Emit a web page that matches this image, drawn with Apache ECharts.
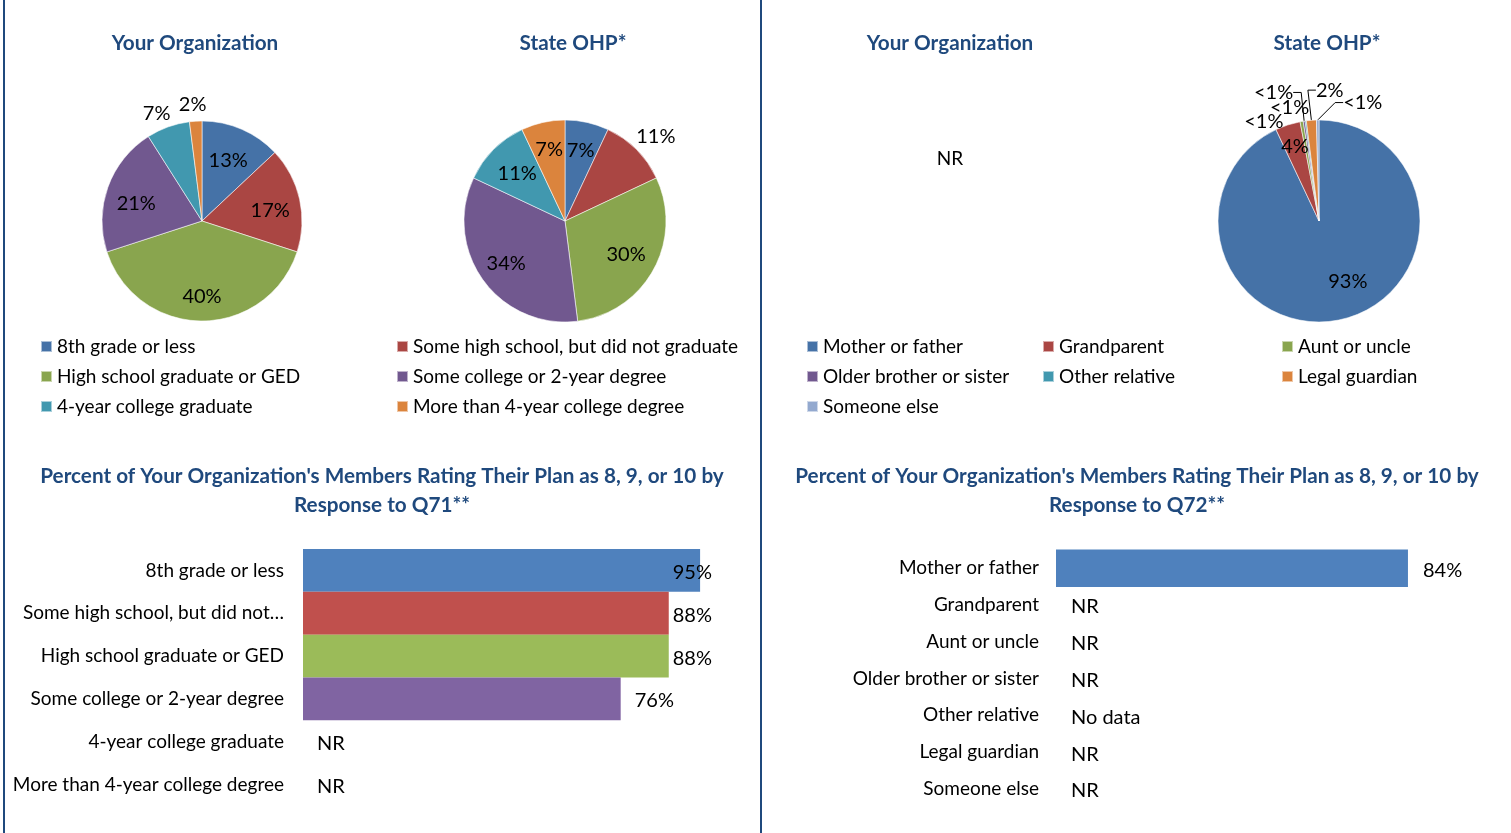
<!DOCTYPE html>
<html><head><meta charset="utf-8">
<script src="https://cdn.jsdelivr.net/npm/echarts@6/dist/echarts.min.js"></script>
<style>html,body{margin:0;padding:0;background:#fff}#c{width:1511px;height:833px}</style>
</head><body><div id="c"></div>
<script>
// ---------------- DATA ----------------
const educationCategories = ['8th grade or less','Some high school, but did not graduate','High school graduate or GED','Some college or 2-year degree','4-year college graduate','More than 4-year college degree'];
const educationOrgPct = [13, 17, 40, 21, 7, 2];
const educationStatePct = [7, 11, 30, 34, 11, 7];
const q71RatingPct = [95, 87.5, 87.5, 76, null, null];
const q71Notes = ['', '', '', '', 'NR', 'NR'];

const guardianCategories = ['Mother or father','Grandparent','Aunt or uncle','Older brother or sister','Other relative','Legal guardian','Someone else'];
const guardianOrgNote = 'NR';
const guardianStatePct = [93, 4, 0.5, 0.3, 0.2, 1.6, 0.4];
const q72RatingPct = [84, null, null, null, null, null, null];
const q72Notes = ['', 'NR', 'NR', 'NR', 'No data', 'NR', 'NR'];

const pieTitles = ['Your Organization', 'State OHP*'];
const barTitleQ71 = "Percent of Your Organization's Members Rating Their Plan as 8, 9, or 10 by\nResponse to Q71**";
const barTitleQ72 = "Percent of Your Organization's Members Rating Their Plan as 8, 9, or 10 by\nResponse to Q72**";

// ---------------- STYLE ----------------
const FONT = 'Lato';
const FS = 19;
const VFS = 20;
const NAVY = '#1F497D';
const pieColors = ['#4572A7','#AA4643','#89A54E','#71588F','#4198AF','#DB843D','#93A9CF'];
const barColors = ['#4F81BD','#C0504D','#9BBB59','#8064A2','#4BACC6','#F79646','#A5B8D9'];

// label placement: [radius fraction, angle offset (deg), leader line]
const placeOrg   = [[0.66,0,0],[0.69,4,0],[0.76,0,0],[0.68,-5,0],[1.17,-3,0],[1.17,-1,0]];
const placeState = [[0.71,0,0],[1.23,2,0],[0.69,0,0],[0.72,0,0],[0.67,0,0],[0.72,0,0]];
const placeGuard = [[0.66,-13,0],[0.77,0,0],[1.13,-19,0],[1.35,-11,1],[1.16,-7,0],[1.30,9,1],[1.25,21,1]];

function pctLabel(v) { return v < 1 ? '<1%' : Math.round(v) + '%'; }

function pieLabelLayout(values, cx, cy, r, place) {
  const total = values.reduce((a, b) => a + b, 0);
  const mids = []; let acc = 0;
  values.forEach(v => { mids.push((acc + v / 2) / total * 360); acc += v; });
  return function (p) {
    const i = p.dataIndex;
    const f = place[i][0], off = place[i][1], line = place[i][2];
    const a = (mids[i] + off) * Math.PI / 180;
    const x = cx + Math.sin(a) * r * f, y = cy - Math.cos(a) * r * f;
    const res = { x: x, y: y, align: 'center', verticalAlign: 'middle' };
    if (line) {
      const w = p.labelRect.width;
      const m = mids[i] * Math.PI / 180;
      const rx = cx + Math.sin(m) * r, ry = cy - Math.cos(m) * r;
      const side = rx < x ? -1 : 1;
      const sx = x + side * w / 2;
      res.labelLinePoints = [[sx, y], [sx + side * 8, y], [rx, ry]];
    }
    return res;
  };
}

function pieSeries(names, values, cx, cy, r, place) {
  return {
    type: 'pie', center: [cx, cy], radius: r, startAngle: 90, clockwise: true,
    avoidLabelOverlap: false, animation: false,
    emphasis: { disabled: true },
    label: { show: true, position: 'inside', fontFamily: FONT, fontSize: VFS, color: '#000',
             formatter: p => pctLabel(p.value) },
    labelLine: { show: false },
    labelLayout: pieLabelLayout(values, cx, cy, r, place),
    data: names.map((n, i) => {
      const d = { name: n, value: values[i],
                  itemStyle: { color: pieColors[i], borderColor: 'rgba(255,255,255,0.55)', borderWidth: 1 } };
      if (place[i][2]) {
        d.label = { position: 'outside' };
        d.labelLine = { show: true, length: 5, length2: 5, lineStyle: { color: '#000', width: 1 } };
      }
      return d;
    })
  };
}

const LEFT_PLOT_RIGHT = 712;
function barSeries(gi, values, notes, colors, dist, barWidth, clamp) {
  const s = {
    type: 'bar', xAxisIndex: gi, yAxisIndex: gi, barCategoryGap: '0%', animation: false,
    emphasis: { disabled: true },
    data: values.map((v, i) => ({ value: v == null ? 0 : v, itemStyle: { color: colors[i] } })),
    label: { show: true, position: 'right', distance: dist, offset: [0, 2], fontFamily: FONT, fontSize: VFS, color: '#000',
             formatter: p => notes[p.dataIndex] || pctLabel(values[p.dataIndex]) }
  };
  if (barWidth) s.barWidth = barWidth;
  if (clamp) s.labelLayout = p => ({
    x: Math.min(p.labelRect.x, clamp - p.labelRect.width),
    y: p.labelRect.y + p.labelRect.height / 2,
    align: 'left', verticalAlign: 'middle'
  });
  return s;
}

function legendItem(name, left, top) {
  return { data: [name], left: left, top: top - 10, padding: 0, itemWidth: 11, itemHeight: 11, icon: 'rect',
           selectedMode: false, textStyle: { fontFamily: FONT, fontSize: FS, color: '#000', lineHeight: 20 } };
}

const legends = [];
const rows = [346.5, 376.5, 406.5];
educationCategories.forEach((n, i) => legends.push(legendItem(n, i % 2 ? 396 : 40, rows[Math.floor(i / 2)])));
const gCols = [806, 1042, 1281];
guardianCategories.forEach((n, i) => legends.push(legendItem(n, gCols[i % 3], rows[Math.floor(i / 3)])));

function txt(text, x, y, opts) {
  return { type: 'text', x: x, y: y, silent: true,
    style: Object.assign({ text: text, fill: NAVY, font: 'bold 20.7px ' + FONT, textAlign: 'center', textVerticalAlign: 'middle' }, opts || {}) };
}

const catAxis = (gi, data, margin) => ({
  gridIndex: gi, type: 'category', data: data, inverse: true,
  axisLine: { show: false }, axisTick: { show: false }, splitLine: { show: false },
  axisLabel: { fontFamily: FONT, fontSize: FS, color: '#000', margin: margin,
               formatter: v => v.length > 32 ? v.slice(0, 29).trim() + '…' : v }
});

const option = {
  backgroundColor: '#fff',
  animation: false,
  legend: legends,
  grid: [
    { left: 303, top: 549, width: 418, height: 257 },
    { left: 1056, top: 549.5, width: 419, height: 258 }
  ],
  xAxis: [
    { gridIndex: 0, type: 'value', min: 0, max: 100, show: false },
    { gridIndex: 1, type: 'value', min: 0, max: 100, show: false }
  ],
  yAxis: [catAxis(0, educationCategories, 19), catAxis(1, guardianCategories, 17)],
  series: [
    pieSeries(educationCategories, educationOrgPct, 202, 221, 100, placeOrg),
    pieSeries(educationCategories, educationStatePct, 565, 221, 101, placeState),
    pieSeries(guardianCategories, guardianStatePct, 1319, 221, 101, placeGuard),
    barSeries(0, q71RatingPct, q71Notes, barColors, 14, null, LEFT_PLOT_RIGHT),
    barSeries(1, q72RatingPct, q72Notes, barColors.map(() => barColors[0]), 15, 38, null)
  ],
  graphic: [
    { type: 'rect', shape: { x: 3, y: 0, width: 2, height: 833 }, style: { fill: NAVY }, silent: true },
    { type: 'rect', shape: { x: 760, y: 0, width: 2, height: 833 }, style: { fill: NAVY }, silent: true },
    txt(pieTitles[0], 195, 43), txt(pieTitles[1], 573, 43),
    txt(pieTitles[0], 950, 43), txt(pieTitles[1], 1327, 43),
    txt(guardianOrgNote, 950, 159, { fill: '#000', font: FS + 'px ' + FONT }),
    txt(barTitleQ71, 382, 491, { lineHeight: 29 }),
    txt(barTitleQ72, 1137, 491, { lineHeight: 29 })
  ]
};

const chart = echarts.init(document.getElementById('c'), null, { renderer: 'canvas' });
chart.setOption(option);
</script>
</body></html>
